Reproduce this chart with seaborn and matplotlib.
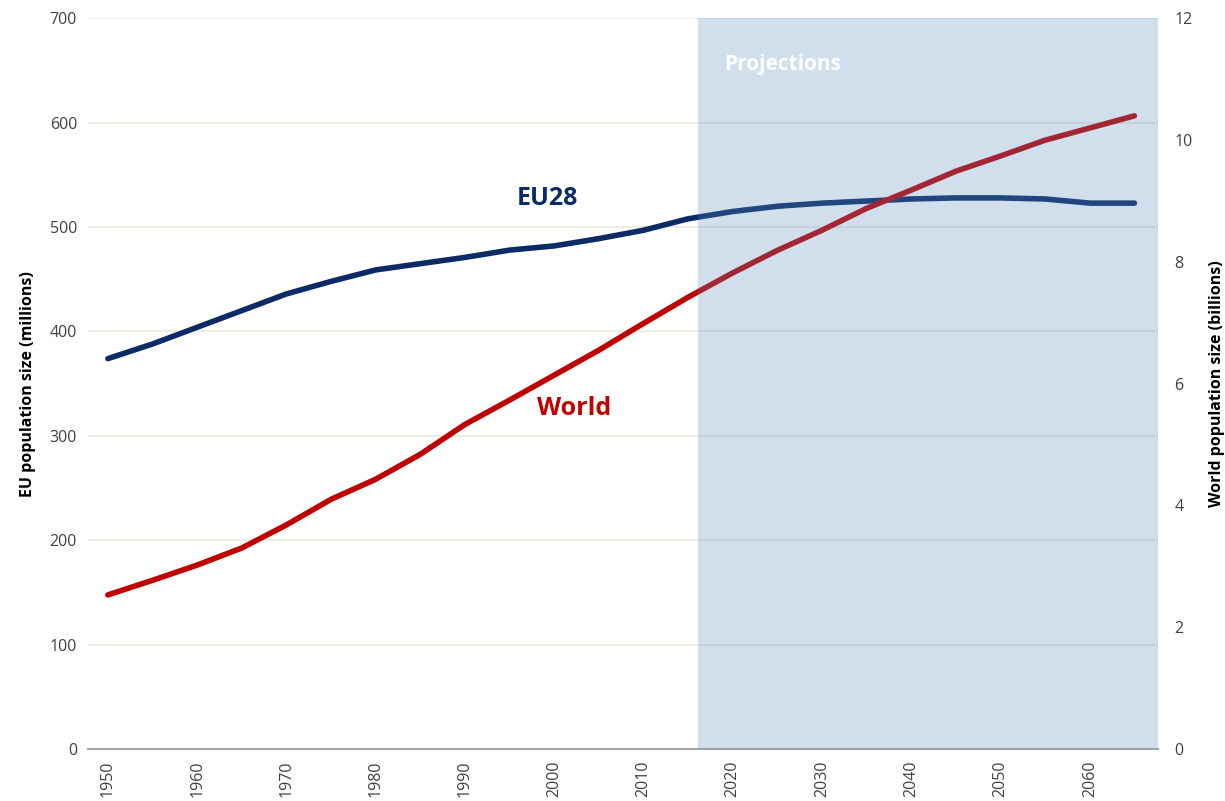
import matplotlib
matplotlib.use("Agg")
import matplotlib.pyplot as plt
import pandas as pd
import seaborn as sns

years = [1950, 1955, 1960, 1965, 1970, 1975, 1980, 1985, 1990, 1995, 2000, 2005,
         2010, 2015, 2020, 2025, 2030, 2035, 2040, 2045, 2050, 2055, 2060, 2065]
eu28_millions = [374, 388, 404, 420, 436, 448, 459, 465, 471, 478, 482, 489,
                 497, 508, 515, 520, 523, 525, 527, 528, 528, 527, 523, 523]
world_billions = [2.53, 2.77, 3.02, 3.30, 3.68, 4.10, 4.43, 4.84, 5.33, 5.73, 6.14, 6.55,
                  6.99, 7.42, 7.82, 8.19, 8.52, 8.88, 9.18, 9.49, 9.74, 10.0, 10.2, 10.4]
projection_start = 2016.1
x_ticks = [1950, 1960, 1970, 1980, 1990, 2000, 2010, 2020, 2030, 2040, 2050, 2060]

df = pd.DataFrame({"year": years, "eu": eu28_millions, "world": world_billions})

sns.set_style("white")
plt.rcParams["font.family"] = ["Open Sans", "DejaVu Sans"]

navy = "#0b2a66"
red = "#c00000"
tick_col = "#404040"

fig, ax = plt.subplots(figsize=(12.25, 8.01), dpi=100)
fig.subplots_adjust(left=0.072, right=0.945, top=0.977, bottom=0.065)

sns.lineplot(data=df, x="year", y="eu", ax=ax, color=navy, linewidth=4.0,
             solid_capstyle="round")
ax.set_ylim(0, 700)
ax.set_xlim(1947.8, 2067.6)
ax.set_yticks(range(0, 701, 100))
ax.yaxis.grid(True, color="#ebebe0", linewidth=1.2)
ax.set_axisbelow(True)
ax.set_xticks(x_ticks)
ax.set_xticklabels([str(y) for y in x_ticks], rotation=90)
ax.set_xlabel("")
ax.set_ylabel("EU population size (millions)", fontsize=11.5, fontweight="bold",
              color="black", labelpad=10)
ax.tick_params(axis="both", labelsize=11.5, colors=tick_col, length=0, pad=8)
for s in ["top", "right", "left"]:
    ax.spines[s].set_visible(False)
ax.spines["bottom"].set_color("#a6a6a6")
ax.spines["bottom"].set_linewidth(1.5)

ax2 = ax.twinx()
sns.lineplot(data=df, x="year", y="world", ax=ax2, color=red, linewidth=4.0,
             solid_capstyle="round")
ax2.set_ylim(0, 12)
ax2.set_yticks(range(0, 13, 2))
ax2.set_ylabel("World population size (billions)", fontsize=11.5, fontweight="bold",
               color="black", labelpad=12)
ax2.tick_params(axis="y", labelsize=11.5, colors=tick_col, length=0, pad=12)
for s in ["top", "right", "left", "bottom"]:
    ax2.spines[s].set_visible(False)

ax2.axvspan(projection_start, 2067.6, color="#5b8cc0", alpha=0.28, lw=0, zorder=5)
ax2.text(2019, 11.25, "Projections", color="white", fontsize=15, fontweight="bold",
         ha="left", va="center", zorder=6)
ax2.text(1999.3, 9.05, "EU28", color=navy, fontsize=18, fontweight="bold",
         ha="center", va="center")
ax2.text(2002.2, 5.6, "World", color=red, fontsize=18, fontweight="bold",
         ha="center", va="center")

fig.savefig("out.png", dpi=100)
